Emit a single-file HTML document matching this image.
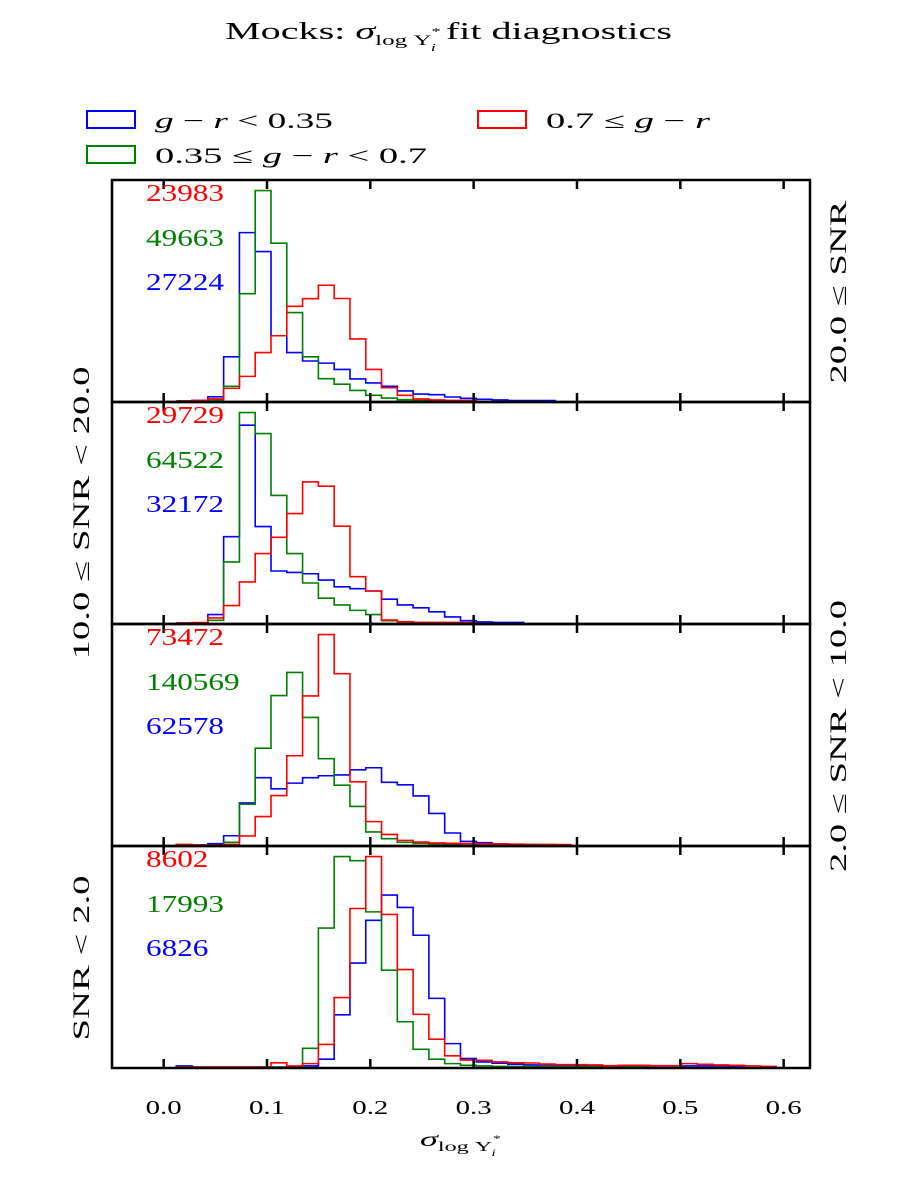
<!DOCTYPE html>
<html><head><meta charset="utf-8"><style>
body{margin:0;background:#fff;}
svg{display:block;font-family:"Liberation Serif","DejaVu Serif",serif;}
</style></head><body>
<svg id="chart" width="900" height="1200" viewBox="0 0 900 1200">
<text x="225" y="39" font-size="24" textLength="447" lengthAdjust="spacingAndGlyphs">Mocks: <tspan font-style="italic">σ</tspan><tspan font-size="15" dy="6">log Υ</tspan><tspan font-size="11" dy="-10">*</tspan><tspan font-size="11" font-style="italic" dx="-6" dy="16">i</tspan><tspan dy="-12"> fit diagnostics</tspan></text>
<g>
<rect x="87" y="111" width="48" height="17" fill="none" stroke="#0000ff" stroke-width="2"/>
<text x="155" y="128" font-size="22" textLength="178" lengthAdjust="spacingAndGlyphs"><tspan font-style="italic">g</tspan> − <tspan font-style="italic">r</tspan> &lt; 0.35</text>
<rect x="87" y="146" width="48" height="17" fill="none" stroke="#008000" stroke-width="2"/>
<text x="155" y="163" font-size="22" textLength="272" lengthAdjust="spacingAndGlyphs">0.35 ≤ <tspan font-style="italic">g</tspan> − <tspan font-style="italic">r</tspan> &lt; 0.7</text>
<rect x="478" y="111" width="48" height="17" fill="none" stroke="#ff0000" stroke-width="2"/>
<text x="546" y="128" font-size="22" textLength="164" lengthAdjust="spacingAndGlyphs">0.7 ≤ <tspan font-style="italic">g</tspan> − <tspan font-style="italic">r</tspan></text>
</g>
<g id="panels"></g>
<text x="420" y="1146" font-size="21" textLength="80" lengthAdjust="spacingAndGlyphs" font-style="italic">σ<tspan font-size="14" font-style="normal" dy="5">log Υ</tspan><tspan font-size="9" dy="-9">*</tspan><tspan font-size="9" dx="-5" dy="14">i</tspan></text>
</svg>
<script>
const binStart = 0.0122;
const binWidth = 0.01528;
const xTicks = [0.0, 0.1, 0.2, 0.3, 0.4, 0.5, 0.6];
const xTickLabels = ["0.0","0.1","0.2","0.3","0.4","0.5","0.6"];
const panelLabels = ["20.0 ≤ SNR","10.0 ≤ SNR < 20.0","2.0 ≤ SNR < 10.0","SNR < 2.0"];
const countsRed = ["23983","29729","73472","8602"];
const countsGreen = ["49663","64522","140569","17993"];
const countsBlue = ["27224","32172","62578","6826"];
const p1Blue = [0,0.3,2,21,80,71,31,23,19,18,15,10.5,8.6,7,4.8,3.3,3,1.9,1.3,0.8,0.5,0.2,0.2,0.2];
const p1Green = [0,0,0.5,7,51,100,75,42,21,10.6,8,5,2.7,1.4,0.6,0.3,0.1,0.1];
const p1Red = [0,0.2,1,6,11.7,23,31,45,48.6,55,48.7,29.5,15,6.3,2.7,1,0.5,0.3,0.3];
const p2Blue = [0,0,4,41,94,45.8,24.7,24,23.4,20.4,17.2,16.3,15.2,11.3,8.6,7.2,5.3,2.9,1.1,0.5,0.3,0.3];
const p2Green = [0,0,1.3,29,100,90,60.6,33,19,11.8,8.6,6,4,1.1,0.6,0.3,0.2];
const p2Red = [0,0.2,2.4,8.3,19.5,33,40.7,52,67,65,46,22,15.2,1.4,0.5,0.3,0.3,0.3,0.2];
const p3Blue = [0,0,0.6,4.4,20,32,26.7,29.4,32,32.9,33.3,35.7,36.7,29.8,28.6,23.3,15,5.7,1.7,1.1,0.5,0.3,0.2];
const p3Green = [0,0,0,1.3,19.4,46,71,82,60.6,41,28.4,18.3,6.2,3,1.3,0.8,0.5,0.3];
const p3Red = [0.3,0,0,0.3,4.3,13.5,23.5,42.4,70.8,100,81.4,30,11.1,5,2.2,1.4,1,0.8,0.6,0.5,0.5,0.4,0.3,0.3,0.2];
const p4Blue = [0.5,0,0,0,0,0,0,0,0.5,3.7,24.8,49.4,69.7,81.7,75.8,62.6,32.6,11.1,4,2.4,1.8,1.3,1,1,0.8,0.6,0.5,0.5,0.5,0.5,0.5,0.5,0.5,0.5,0.5,0.4];
const p4Green = [0,0,0,0,0,0,0,0,8.9,66,100,98,73.7,46,21.5,8.4,3.7,1.6,0.8,0.5,0.3,0.2,0.2,0.2,0.2,0.2,0.2,0.2,0.2,0.2];
const p4Red = [0,0,0,0,0,0,2,0.5,1.6,10.7,33,75.3,100,72.5,46.3,25,13.2,5.3,3.3,3.2,2.4,2,1.9,1.4,1.1,1.1,1,0.6,0.8,0.8,0.6,0.6,1.6,1.3,1,0.8,0.5,0.3];
const panelSeries = [[p1Blue,p1Green,p1Red],[p2Blue,p2Green,p2Red],[p3Blue,p3Green,p3Red],[p4Blue,p4Green,p4Red]];

const NS = "http://www.w3.org/2000/svg";
const L = 112, R = 810, T0 = 180, PH = 222;
const xMin = -0.05, xMax = 0.6255;
function xs(v){ return L + (v - xMin) / (xMax - xMin) * (R - L); }
const colors = ["#0000ff","#008000","#ff0000"];
const cnames = ["blue","green","red"];
const labelCenters = [292, 513, 736, 958];
const labelLengths = [183, 293, 272, 165];
const root = document.getElementById("panels");
function mk(tag, attrs){ const e = document.createElementNS(NS, tag); for (const k in attrs) e.setAttribute(k, attrs[k]); return e; }

panelSeries.forEach((series, p) => {
  const top = T0 + p * PH, bot = top + PH;
  const g = mk("g", {});
  
  
  root.appendChild(g);
  let ymax = 0;
  series.forEach(s => s.forEach(v => { if (v > ymax) ymax = v; }));
  ymax *= 1.05;
  const ys = v => bot - 1 - v / ymax * (PH - 1);
  series.forEach((s, si) => {
    let d = "";
    s.forEach((v, i) => {
      const x0 = xs(binStart + i * binWidth), x1 = xs(binStart + (i + 1) * binWidth);
      const y = ys(v);
      d += (i === 0 ? "M" + x0 + "," + ys(0) + "L" : "L") + x0 + "," + y + "L" + x1 + "," + y;
    });
    d += "L" + xs(binStart + s.length * binWidth) + "," + ys(0);
    const path = mk("path", {d: d, fill: "none", stroke: colors[si], "stroke-width": 1.6});
    
    
    g.appendChild(path);
  });
  const frame = mk("rect", {x: L, y: top, width: R - L, height: PH, fill: "none", stroke: "#000", "stroke-width": 2.5});
  
  
  g.appendChild(frame);
  xTicks.forEach(t => {
    const tx = xs(t);
    const t1 = mk("line", {x1: tx, x2: tx, y1: top, y2: top + 9, stroke: "#000", "stroke-width": 2.5});
    
    
    g.appendChild(t1);
    const t2 = mk("line", {x1: tx, x2: tx, y1: bot, y2: bot - 9, stroke: "#000", "stroke-width": 2.5});
    
    
    g.appendChild(t2);
  });
  [[countsRed[p], "#ff0000", 21], [countsGreen[p], "#008000", 66], [countsBlue[p], "#0000ff", 110]].forEach((c, ci) => {
    const tx = mk("text", {x: 146, y: top + c[2], fill: c[1], "font-size": 24, textLength: c[0].length * 15.6, lengthAdjust: "spacingAndGlyphs"});
    
    
    tx.textContent = c[0];
    g.appendChild(tx);
  });
  const right = (p % 2 === 0);
  const cx = right ? 846 : 89;
  const lcy = labelCenters[p];
  const lab = mk("text", {x: cx, y: lcy, "font-size": 23, "text-anchor": "middle", textLength: labelLengths[p], lengthAdjust: "spacingAndGlyphs", transform: "rotate(-90 " + cx + " " + lcy + ")"});
  
  
  lab.textContent = panelLabels[p];
  g.appendChild(lab);
});
xTicks.forEach((t, i) => {
  const tx = mk("text", {x: xs(t), y: 1114, "font-size": 20, "text-anchor": "middle", textLength: 36, lengthAdjust: "spacingAndGlyphs"});
  
  
  tx.textContent = xTickLabels[i];
  root.appendChild(tx);
});
</script>
</body></html>
